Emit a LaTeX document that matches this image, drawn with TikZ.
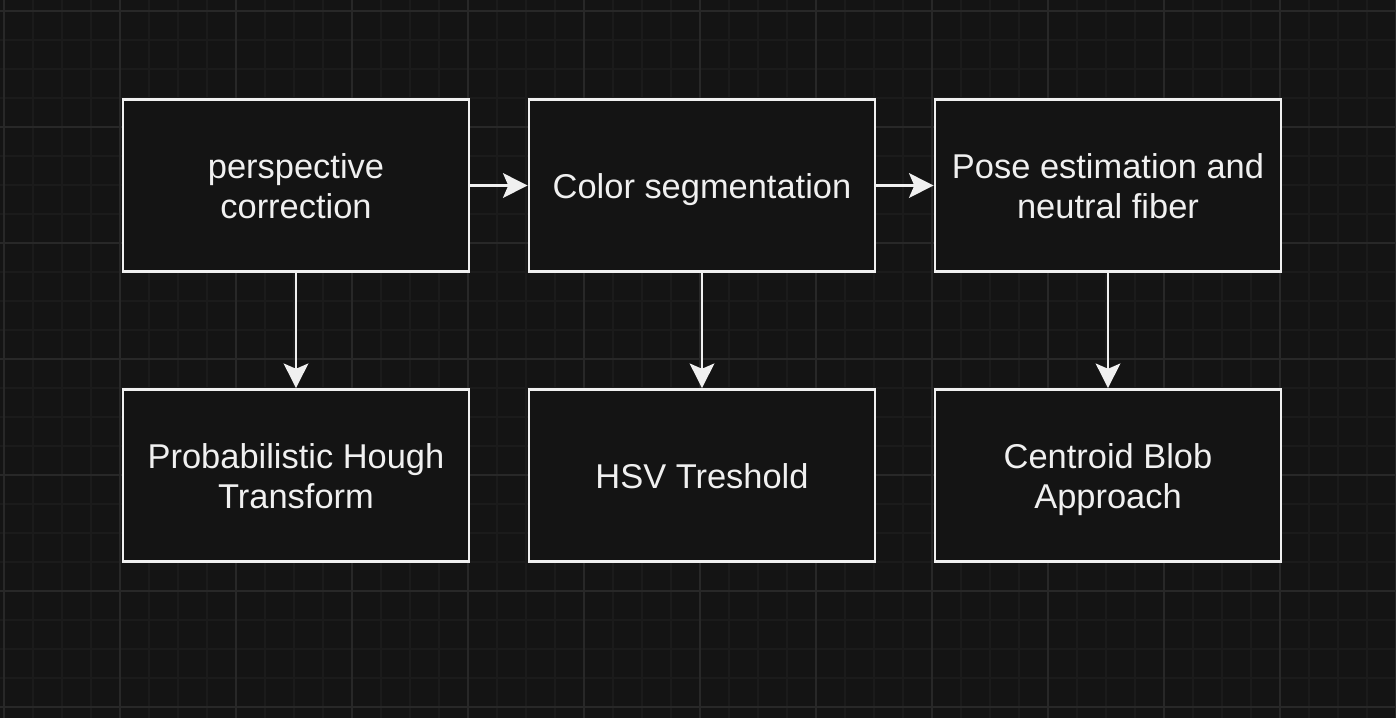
\documentclass[tikz,border=0pt]{standalone}
\usepackage{fontspec}
\setmainfont{Liberation Sans}
\usetikzlibrary{arrows, arrows.meta}
\definecolor{bgcol}{RGB}{20,20,20}
\definecolor{minorcol}{RGB}{27,27,27}
\definecolor{majorcol}{RGB}{40,40,40}
\definecolor{linecol}{RGB}{240,240,240}

\begin{document}
\begin{tikzpicture}[x=0.02cm, y=-0.02cm,
  box/.style={draw=linecol, fill=bgcol, line width=1.6pt, minimum width=6.92cm,
    minimum height=3.44cm, align=center, text=linecol, inner sep=0pt,
    font=\fontsize{19.6}{23.2}\selectfont, text height=19pt, text depth=4.44pt},
  twoline/.style={box, text height=42.3pt, text depth=4.44pt},
  flow/.style={draw=linecol, line width=1.5pt,
    -{Stealth[length=14pt, width=14pt, inset=3pt]}}]
\useasboundingbox (0,0) rectangle (1396,718);
\fill[bgcol] (0,0) rectangle (1396,718);
% grid
\foreach \i in {0,...,48} \draw[minorcol, line width=0.6pt] ({4+29*\i},0) -- ({4+29*\i},718);
\foreach \i in {0,...,24} \draw[minorcol, line width=0.6pt] (0,{11+29*\i}) -- (1396,{11+29*\i});
\foreach \i in {0,...,12} \draw[majorcol, line width=0.7pt] ({4+116*\i},0) -- ({4+116*\i},718);
\foreach \i in {0,...,6} \draw[majorcol, line width=0.7pt] (0,{11+116*\i}) -- (1396,{11+116*\i});
% top row
\node[twoline] (persp) at (296,185.5) {perspective\\correction};
\node[box] (colseg) at (702,185.5) {Color segmentation};
\node[twoline] (pose) at (1108,185.5) {Pose estimation and\\neutral fiber};
% bottom row
\node[twoline] (hough) at (296,475.5) {Probabilistic Hough\\Transform};
\node[box] (hsv) at (702,475.5) {HSV Treshold};
\node[twoline] (blob) at (1108,475.5) {Centroid Blob\\Approach};
% arrows
\draw[flow] (persp) -- (colseg);
\draw[flow] (colseg) -- (pose);
\draw[flow] (persp) -- (hough);
\draw[flow] (colseg) -- (hsv);
\draw[flow] (pose) -- (blob);
\end{tikzpicture}
\end{document}
